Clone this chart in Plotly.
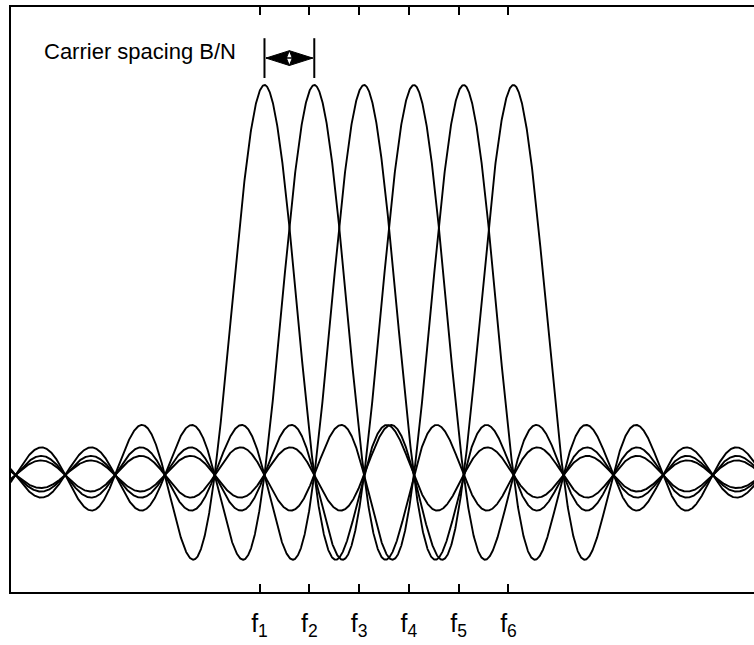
import numpy as np
import plotly.graph_objects as go

# Data
carriers = [1, 2, 3, 4, 5, 6]          # carrier frequencies (units of B/N)
amplitudes = [1, 1, 1, 1, 1, 1]        # peak amplitude of each carrier
tick_names = ["1", "2", "3", "4", "5", "6"]
annotation_text = "Carrier spacing B/N"

tick_labels = ["f<sub>%s</sub>" % n for n in tick_names]

x = np.linspace(-4.2, 11.0, 3041)

fig = go.Figure()
for fc, a in zip(carriers, amplitudes):
    fig.add_trace(go.Scatter(
        x=x, y=a * np.sinc(x - fc), mode="lines",
        line=dict(color="black", width=1.9), showlegend=False,
        hoverinfo="skip"))

# spacing marker: two vertical bars and a double-headed arrow with filled heads
bar_left = carriers[0]
bar_right = carriers[1]
for bx in (bar_left, bar_right):
    fig.add_shape(type="line", x0=bx, x1=bx, y0=1.018, y1=1.12,
                  line=dict(color="black", width=2))
ya = 1.069
hh = 0.019        # half height of arrow head
tip_l = bar_left + 0.03
tip_r = bar_right - 0.03
mid = (bar_left + bar_right) / 2
fig.add_shape(type="line", x0=tip_l, x1=tip_r, y0=ya, y1=ya,
              line=dict(color="black", width=1.5))
fig.add_shape(type="path",
              path=f"M {tip_l} {ya} L {mid} {ya + hh} L {mid - 0.06} {ya} L {mid} {ya - hh} Z",
              fillcolor="black", line=dict(color="black", width=1))
fig.add_shape(type="path",
              path=f"M {tip_r} {ya} L {mid} {ya + hh} L {mid + 0.06} {ya} L {mid} {ya - hh} Z",
              fillcolor="black", line=dict(color="black", width=1))

fig.add_annotation(x=-3.46, y=1.087, xref="x", yref="y", text=annotation_text,
                   showarrow=False, xanchor="left", yanchor="middle",
                   font=dict(family="Liberation Sans, Arial", size=22, color="black"))

fig.update_xaxes(range=[-4.09, 10.83], showgrid=False, zeroline=False,
                 showline=True, linecolor="black", linewidth=2, mirror="ticks",
                 ticks="inside", ticklen=8, tickwidth=2, tickcolor="black",
                 tickvals=[c - 0.1 for c in carriers], ticktext=tick_labels,
                 ticklabelstandoff=8,
                 tickfont=dict(family="Liberation Sans, Arial", size=25, color="black"))
fig.update_yaxes(range=[-0.3, 1.2], showgrid=False, zeroline=False,
                 showline=True, linecolor="black", linewidth=2, mirror=False,
                 showticklabels=False, ticks="")

fig.update_layout(width=754, height=645, margin=dict(l=11, r=0, t=7, b=53),
                  plot_bgcolor="white", paper_bgcolor="white")

fig.write_html("out.html")
